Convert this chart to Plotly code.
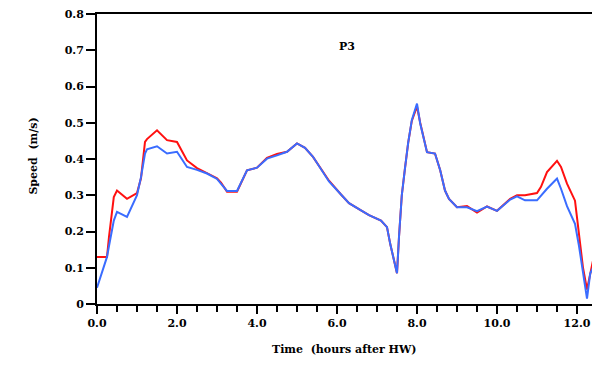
import plotly.graph_objects as go

# Current speed at station P3 over the tidal cycle (hours after high water)
hours = [0, 0.25, 0.3, 0.42, 0.5, 0.75, 1.0, 1.1, 1.2, 1.25, 1.5, 1.75, 2.0,
         2.25, 2.5, 2.75, 3.0, 3.1, 3.25, 3.5, 3.75, 4.0, 4.25, 4.5, 4.75,
         5.0, 5.2, 5.4, 5.6, 5.8, 6.1, 6.3, 6.6, 6.8, 7.1, 7.25, 7.33, 7.42,
         7.5, 7.55, 7.62, 7.7, 7.78, 7.87, 8.0, 8.08, 8.17, 8.25, 8.45, 8.58,
         8.7, 8.8, 9.0, 9.25, 9.5, 9.75, 10.0, 10.15, 10.33, 10.5, 10.7,
         11.0, 11.1, 11.25, 11.5, 11.6, 11.75, 11.95, 12.05, 12.15, 12.25,
         12.33, 12.4]

speed_red = [0.13, 0.13, 0.185, 0.295, 0.313, 0.29, 0.306, 0.347, 0.447,
             0.455, 0.479, 0.452, 0.447, 0.396, 0.375, 0.362, 0.347, 0.335,
             0.31, 0.31, 0.369, 0.376, 0.403, 0.414, 0.42, 0.443, 0.431,
             0.406, 0.373, 0.34, 0.302, 0.278, 0.258, 0.245, 0.23, 0.212,
             0.166, 0.12, 0.085, 0.185, 0.30, 0.375, 0.445, 0.505, 0.545,
             0.50, 0.452, 0.419, 0.415, 0.369, 0.313, 0.29, 0.267, 0.27,
             0.252, 0.269, 0.257, 0.272, 0.29, 0.30, 0.30, 0.306, 0.323,
             0.364, 0.395, 0.378, 0.332, 0.285, 0.2, 0.1, 0.04, 0.085, 0.12]

speed_blue = [0.045, 0.13, 0.16, 0.23, 0.254, 0.24, 0.30, 0.35, 0.415,
              0.427, 0.435, 0.415, 0.42, 0.378, 0.37, 0.36, 0.345, 0.332,
              0.312, 0.312, 0.369, 0.376, 0.401, 0.41, 0.42, 0.443, 0.431,
              0.406, 0.373, 0.338, 0.302, 0.278, 0.258, 0.245, 0.23, 0.212,
              0.166, 0.12, 0.085, 0.185, 0.30, 0.375, 0.445, 0.507, 0.553,
              0.498, 0.452, 0.419, 0.415, 0.369, 0.313, 0.29, 0.267, 0.267,
              0.256, 0.269, 0.257, 0.272, 0.288, 0.297, 0.286, 0.286, 0.30,
              0.318, 0.346, 0.318, 0.27, 0.221, 0.16, 0.085, 0.015, 0.084,
              0.10]

y_ticks = [0, 0.1, 0.2, 0.3, 0.4, 0.5, 0.6, 0.7, 0.8]
y_tick_text = ["0", "0.1", "0.2", "0.3", "0.4", "0.5", "0.6", "0.7", "0.8"]
x_ticks = [0, 2, 4, 6, 8, 10, 12]
x_tick_text = ["0.0", "2.0", "4.0", "6.0", "8.0", "10.0", "12.0"]

FONT = "DejaVu Serif"

fig = go.Figure()
fig.add_trace(go.Scatter(x=hours, y=speed_red, mode="lines",
                         line=dict(color="#ff1010", width=2), showlegend=False))
fig.add_trace(go.Scatter(x=hours, y=speed_blue, mode="lines",
                         line=dict(color="#3a6cff", width=2), showlegend=False))

fig.update_layout(
    width=592, height=369,
    margin=dict(l=97, r=0, t=14, b=65),
    paper_bgcolor="white", plot_bgcolor="white",
    font=dict(family=FONT, size=11, color="black"),
    showlegend=False,
)

fig.update_xaxes(
    range=[0, 12.375], tickvals=x_ticks, ticktext=x_tick_text,
    showgrid=False, zeroline=False, automargin=False,
    showline=True, linecolor="black", linewidth=2, mirror=True,
    ticks="outside", ticklen=8, tickwidth=2, tickcolor="black",
    tickfont=dict(family=FONT, size=11, color="black", weight="bold"),
    minor=dict(dtick=0.5, ticks="outside", ticklen=6, tickwidth=2,
               tickcolor="black", showgrid=False),
)
fig.update_yaxes(
    range=[0, 0.8], tickvals=y_ticks, ticktext=y_tick_text,
    showgrid=False, zeroline=False, automargin=False,
    showline=True, linecolor="black", linewidth=2,
    ticks="outside", ticklen=9, tickwidth=2, tickcolor="black",
    tickfont=dict(family=FONT, size=11, color="black", weight="bold"),
)

fig.add_annotation(text="<b>P3</b>", xref="paper", yref="paper",
                   x=0.505, y=0.917, showarrow=False,
                   font=dict(family=FONT, size=11, color="black"))
fig.add_annotation(text="<b>Time  (hours after HW)</b>", xref="paper",
                   yref="paper", x=0.5, y=-0.186, showarrow=False,
                   font=dict(family=FONT, size=11, color="black"))
fig.add_annotation(text="<b>Speed  (m/s)</b>", xref="paper", yref="paper",
                   x=-0.1455, y=0.51, textangle=-90, showarrow=False,
                   font=dict(family=FONT, size=11, color="black"))

fig.write_html("out.html")
